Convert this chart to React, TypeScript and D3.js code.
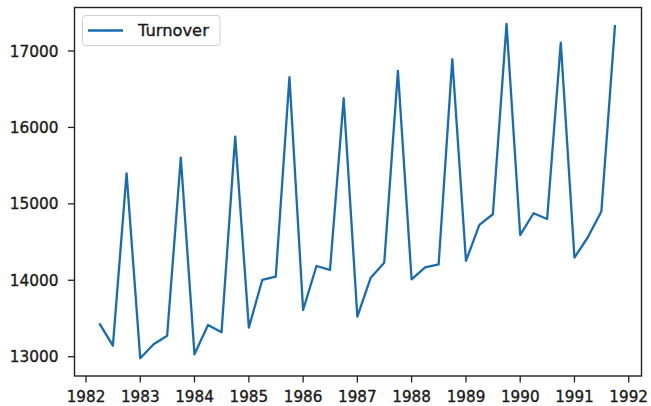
import React from "react";
import * as d3 from "d3";

const quarters: string[] = [
  "1982-04-01", "1982-07-01", "1982-10-01",
  "1983-01-01", "1983-04-01", "1983-07-01", "1983-10-01",
  "1984-01-01", "1984-04-01", "1984-07-01", "1984-10-01",
  "1985-01-01", "1985-04-01", "1985-07-01", "1985-10-01",
  "1986-01-01", "1986-04-01", "1986-07-01", "1986-10-01",
  "1987-01-01", "1987-04-01", "1987-07-01", "1987-10-01",
  "1988-01-01", "1988-04-01", "1988-07-01", "1988-10-01",
  "1989-01-01", "1989-04-01", "1989-07-01", "1989-10-01",
  "1990-01-01", "1990-04-01", "1990-07-01", "1990-10-01",
  "1991-01-01", "1991-04-01", "1991-07-01", "1991-10-01",
];

const turnover: number[] = [
  13437, 13144, 15400,
  12979, 13162, 13275, 15605,
  13031, 13415, 13319, 15880,
  13380, 14004, 14047, 16657,
  13611, 14187, 14135, 16382,
  13524, 14034, 14230, 16739,
  14013, 14170, 14209, 16893,
  14253, 14724, 14864, 17355,
  14593, 14877, 14802, 17110,
  14296, 14563, 14899, 17342,
];

const yTicks: number[] = [13000, 14000, 15000, 16000, 17000];
const xTickYears: number[] = [1982, 1983, 1984, 1985, 1986, 1987, 1988, 1989, 1990, 1991, 1992];
const seriesName = "Turnover";

export default function App() {
  const W = 651, H = 406;
  const left = 74.5, right = 641.5, top = 7.5, bottom = 376;
  const parse = d3.timeParse("%Y-%m-%d");
  const dates = quarters.map((q) => parse(q) as Date);

  const x = d3
    .scaleTime()
    .domain([new Date(1982, 0, 1), new Date(1992, 0, 1)])
    .range([86, 628.7]);
  const y = d3.scaleLinear().domain([13000, 17000]).range([356.7, 51]);

  const line = d3
    .line<number>()
    .x((_, i) => x(dates[i]))
    .y((d) => y(d));

  const font = "DejaVu Sans, sans-serif";
  const textColor = "#1a1a1a";
  const textStroke = { stroke: textColor, strokeWidth: 0.35 };

  return (
    <svg
      width={W}
      height={H}
      style={{ position: "absolute", left: 0, top: 0, background: "#fff" }}
    >
      <rect x={0} y={0} width={W} height={H} fill="#fff" />
      <path
        d={line(turnover) || ""}
        fill="none"
        stroke="#1a6cb2"
        strokeWidth={2.3}
        strokeLinejoin="round"
      />
      <rect
        x={left}
        y={top}
        width={right - left}
        height={bottom - top}
        fill="none"
        stroke="#222"
        strokeWidth={1.4}
      />
      {yTicks.map((t) => (
        <g key={t}>
          <line x1={left - 6.5} x2={left} y1={y(t)} y2={y(t)} stroke="#222" strokeWidth={1.3} />
          <text
            x={left - 16}
            y={y(t)}
            dy="0.36em"
            textAnchor="end"
            fontFamily={font}
            fontSize={15.3}
            fill={textColor}
            {...textStroke}
          >
            {t}
          </text>
        </g>
      ))}
      {xTickYears.map((yr) => {
        const px = x(new Date(yr, 0, 1));
        return (
          <g key={yr}>
            <line x1={px} x2={px} y1={bottom} y2={bottom + 6.5} stroke="#222" strokeWidth={1.3} />
            <text
              x={px}
              y={bottom + 25.5}
              textAnchor="middle"
              fontFamily={font}
              fontSize={15.2}
              fill={textColor}
              {...textStroke}
            >
              {yr}
            </text>
          </g>
        );
      })}
      <g>
        <rect
          x={82.5}
          y={15.5}
          width={137.5}
          height={30}
          rx={3}
          fill="#fff"
          fillOpacity={0.8}
          stroke="#d0d0d0"
          strokeWidth={1}
        />
        <line x1={88} x2={123} y1={30.5} y2={30.5} stroke="#1a6cb2" strokeWidth={2.3} />
        <text
          x={138}
          y={30.5}
          dy="0.36em"
          fontFamily={font}
          fontSize={16.3}
          fill={textColor}
          {...textStroke}
        >
          {seriesName}
        </text>
      </g>
    </svg>
  );
}
